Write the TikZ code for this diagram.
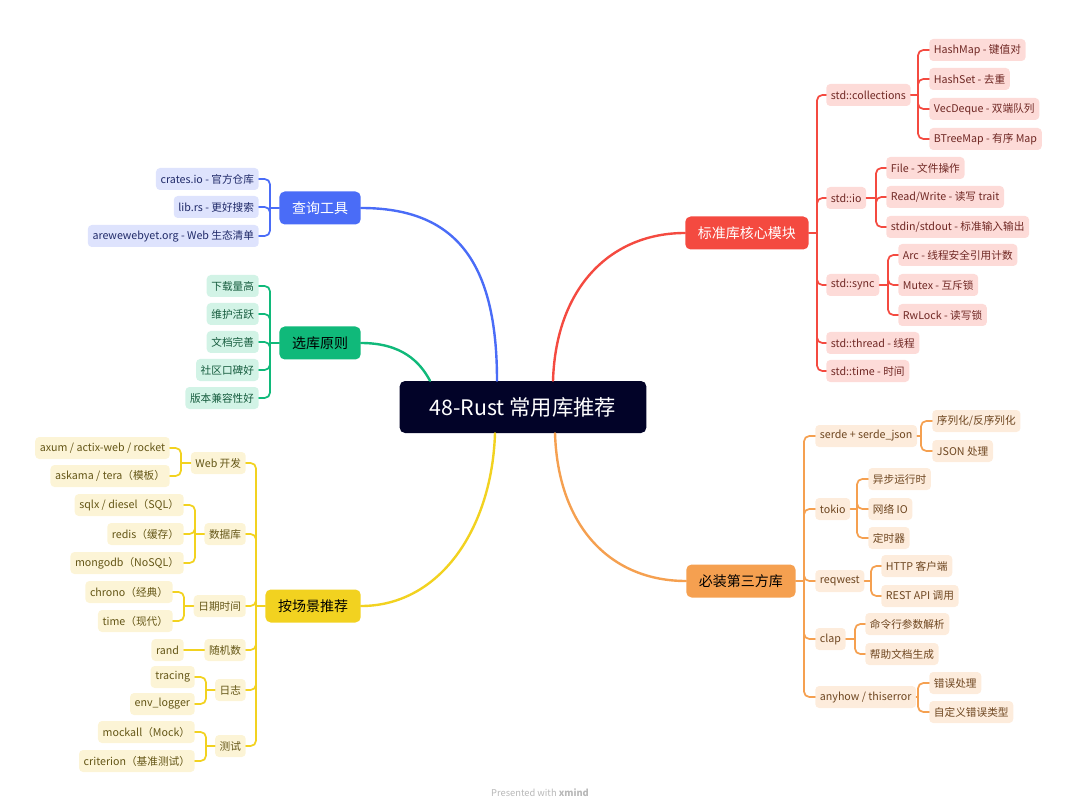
\documentclass[tikz,border=0pt]{standalone}
\usepackage{fontspec}
\setmainfont{Noto Sans CJK SC}
\usetikzlibrary{calc}

\definecolor{rootc}{RGB}{2,3,40}
\definecolor{stdc}{RGB}{244,74,64}
\definecolor{stdl}{RGB}{253,219,216}
\definecolor{stdt}{RGB}{112,40,36}
\definecolor{crtc}{RGB}{245,160,80}
\definecolor{crtl}{RGB}{253,236,220}
\definecolor{crtt}{RGB}{110,70,32}
\definecolor{fndc}{RGB}{74,108,247}
\definecolor{fndl}{RGB}{222,227,253}
\definecolor{fndt}{RGB}{32,42,105}
\definecolor{pckc}{RGB}{16,185,122}
\definecolor{pckl}{RGB}{210,243,230}
\definecolor{pckt}{RGB}{22,92,62}
\definecolor{scnc}{RGB}{242,210,32}
\definecolor{scnl}{RGB}{252,244,214}
\definecolor{scnt}{RGB}{100,86,22}

\begin{document}
\begin{tikzpicture}[x=0.75pt,y=-0.75pt,line cap=round,
        box/.style={rounded corners=3pt,inner xsep=3.5pt,inner ysep=0pt,minimum height=16.5pt,font=\fontsize{8}{9}\selectfont},
        topic/.style={rounded corners=4pt,inner xsep=9.5pt,inner ysep=0pt,minimum height=24.75pt,font=\fontsize{10.5}{12}\selectfont},
        root/.style={rounded corners=4pt,fill=rootc,text=white,minimum width=185pt,minimum height=39pt,font=\fontsize{16}{18}\selectfont},
        std/.style={box,fill=stdl,text=stdt},
        crt/.style={box,fill=crtl,text=crtt},
        fnd/.style={box,fill=fndl,text=fndt},
        pck/.style={box,fill=pckl,text=pckt},
        scn/.style={box,fill=scnl,text=scnt},
        link/.style={line width=1.3pt,rounded corners=4pt},
        branch/.style={line width=1.8pt}]
        \useasboundingbox (0,0) rectangle (1080,812);

        % centre
        \node[root] (r) at (523,407) {48-Rust 常用库推荐};

        % main topics
        \node[topic,fill=stdc,text=white,anchor=west] (std) at (685,233) {标准库核心模块};
        \node[topic,fill=crtc,text=black,anchor=west] (crt) at (686,581) {必装第三方库};
        \node[topic,fill=fndc,text=white,anchor=east] (fnd) at (361,208) {查询工具};
        \node[topic,fill=pckc,text=black,anchor=east] (pck) at (361,343) {选库原则};
        \node[topic,fill=scnc,text=black,anchor=east] (scn) at (361,606) {按场景推荐};

        \draw[branch,fndc] (fnd.east) .. controls (455,208) and ($(r.north)+(-26,-120)$) .. ($(r.north)+(-26,0)$);
        \draw[branch,pckc] (pck.east) .. controls (402,343) and (420,362) .. ($(r.north)+(-93,0)$);
        \draw[branch,stdc] ($(r.north)+(30,0)$) .. controls ($(r.north)+(33,-95)$) and (612,233) .. (std.west);
        \draw[branch,crtc] ($(r.south)+(32,0)$) .. controls ($(r.south)+(35,95)$) and (612,581) .. (crt.west);
        \draw[branch,scnc] ($(r.south)+(-28,0)$) .. controls ($(r.south)+(-31,95)$) and (440,606) .. (scn.east);

        % std
        \node[std,anchor=west] (s1) at (826,95)  {std::collections};
        \node[std,anchor=west] (s2) at (826,198) {std::io};
        \node[std,anchor=west] (s3) at (826,285) {std::sync};
        \node[std,anchor=west] (s4) at (826,343) {std::thread - 线程};
        \node[std,anchor=west] (s5) at (826,371) {std::time - 时间};
        \node[std,anchor=west] (s11) at (929,50)  {HashMap - 键值对};
        \node[std,anchor=west] (s12) at (929,79)  {HashSet - 去重};
        \node[std,anchor=west] (s13) at (929,109) {VecDeque - 双端队列};
        \node[std,anchor=west] (s14) at (929,139) {BTreeMap - 有序 Map};
        \node[std,anchor=west] (s21) at (886,168) {File - 文件操作};
        \node[std,anchor=west] (s22) at (886,197) {Read/Write - 读写 trait};
        \node[std,anchor=west] (s23) at (886,227) {stdin/stdout - 标准输入输出};
        \node[std,anchor=west] (s31) at (898,255) {Arc - 线程安全引用计数};
        \node[std,anchor=west] (s32) at (898,285) {Mutex - 互斥锁};
        \node[std,anchor=west] (s33) at (898,315) {RwLock - 读写锁};

        % crates
        \node[crt,anchor=west] (c1) at (815,436) {serde + serde\_json};
        \node[crt,anchor=west] (c2) at (815,509) {tokio};
        \node[crt,anchor=west] (c3) at (815,581) {reqwest};
        \node[crt,anchor=west] (c4) at (815,639) {clap};
        \node[crt,anchor=west] (c5) at (815,697) {anyhow / thiserror};
        \node[crt,anchor=west] (c11) at (932,421) {序列化/反序列化};
        \node[crt,anchor=west] (c12) at (932,451) {JSON 处理};
        \node[crt,anchor=west] (c21) at (868,479) {异步运行时};
        \node[crt,anchor=west] (c22) at (868,509) {网络 IO};
        \node[crt,anchor=west] (c23) at (868,538) {定时器};
        \node[crt,anchor=west] (c31) at (881,566) {HTTP 客户端};
        \node[crt,anchor=west] (c32) at (881,596) {REST API 调用};
        \node[crt,anchor=west] (c41) at (865,624) {命令行参数解析};
        \node[crt,anchor=west] (c42) at (865,654) {帮助文档生成};
        \node[crt,anchor=west] (c51) at (929,683) {错误处理};
        \node[crt,anchor=west] (c52) at (929,712) {自定义错误类型};

        % find
        \node[fnd,anchor=east] (f1) at (259,179) {crates.io - 官方仓库};
        \node[fnd,anchor=east] (f2) at (259,207) {lib.rs - 更好搜索};
        \node[fnd,anchor=east] (f3) at (259,236) {arewewebyet.org - Web 生态清单};

        % pick
        \node[pck,anchor=east] (p1) at (259,286) {下载量高};
        \node[pck,anchor=east] (p2) at (259,314) {维护活跃};
        \node[pck,anchor=east] (p3) at (259,342) {文档完善};
        \node[pck,anchor=east] (p4) at (259,370) {社区口碑好};
        \node[pck,anchor=east] (p5) at (259,398) {版本兼容性好};

        % scenes
        \node[scn,anchor=east] (y1) at (246,463) {Web 开发};
        \node[scn,anchor=east] (y2) at (246,534) {数据库};
        \node[scn,anchor=east] (y3) at (246,606) {日期时间};
        \node[scn,anchor=east] (y4) at (246,650) {随机数};
        \node[scn,anchor=east] (y5) at (246,690) {日志};
        \node[scn,anchor=east] (y6) at (246,746) {测试};
        \node[scn,anchor=east] (y11) at (170,448) {axum / actix-web / rocket};
        \node[scn,anchor=east] (y12) at (170,476) {askama / tera（模板）};
        \node[scn,anchor=east] (y21) at (184,505) {sqlx / diesel（SQL）};
        \node[scn,anchor=east] (y22) at (184,534) {redis（缓存）};
        \node[scn,anchor=east] (y23) at (184,563) {mongodb（NoSQL）};
        \node[scn,anchor=east] (y31) at (173,592) {chrono（经典）};
        \node[scn,anchor=east] (y32) at (173,621) {time（现代）};
        \node[scn,anchor=east] (y41) at (184,650) {rand};
        \node[scn,anchor=east] (y51) at (195,677) {tracing};
        \node[scn,anchor=east] (y52) at (195,704) {env\_logger};
        \node[scn,anchor=east] (y61) at (195,732) {mockall（Mock）};
        \node[scn,anchor=east] (y62) at (195,761) {criterion（基准测试）};

        % trunks
        \coordinate (tstd) at (817,233);
        \coordinate (ts1) at (918,95);
        \coordinate (ts2) at (876,198);
        \coordinate (ts3) at (888,285);
        \coordinate (tcrt) at (804,581);
        \coordinate (tc1) at (921,436);
        \coordinate (tc2) at (857,509);
        \coordinate (tc3) at (871,581);
        \coordinate (tc4) at (855,639);
        \coordinate (tc5) at (918,697);
        \coordinate (tfnd) at (270,208);
        \coordinate (tpck) at (270,343);
        \coordinate (tscn) at (256,606);
        \coordinate (ty1) at (181,463);
        \coordinate (ty2) at (195,534);
        \coordinate (ty3) at (184,606);
        \coordinate (ty5) at (206,690);
        \coordinate (ty6) at (206,746);

        \begin{scope}[link,stdc]
          \draw (std.east) -- (tstd);
          \foreach \c in {s1,s2,s3,s4,s5} \draw (tstd) |- (\c.west);
          \draw (s1.east) -- (ts1);
          \foreach \c in {s11,s12,s13,s14} \draw (ts1) |- (\c.west);
          \draw (s2.east) -- (ts2);
          \foreach \c in {s21,s22,s23} \draw (ts2) |- (\c.west);
          \draw (s3.east) -- (ts3);
          \foreach \c in {s31,s32,s33} \draw (ts3) |- (\c.west);
        \end{scope}

        \begin{scope}[link,crtc]
          \draw (crt.east) -- (tcrt);
          \foreach \c in {c1,c2,c3,c4,c5} \draw (tcrt) |- (\c.west);
          \draw (c1.east) -- (tc1);
          \foreach \c in {c11,c12} \draw (tc1) |- (\c.west);
          \draw (c2.east) -- (tc2);
          \foreach \c in {c21,c22,c23} \draw (tc2) |- (\c.west);
          \draw (c3.east) -- (tc3);
          \foreach \c in {c31,c32} \draw (tc3) |- (\c.west);
          \draw (c4.east) -- (tc4);
          \foreach \c in {c41,c42} \draw (tc4) |- (\c.west);
          \draw (c5.east) -- (tc5);
          \foreach \c in {c51,c52} \draw (tc5) |- (\c.west);
        \end{scope}

        \begin{scope}[link,fndc]
          \draw (fnd.west) -- (tfnd);
          \foreach \c in {f1,f2,f3} \draw (tfnd) |- (\c.east);
        \end{scope}

        \begin{scope}[link,pckc]
          \draw (pck.west) -- (tpck);
          \foreach \c in {p1,p2,p3,p4,p5} \draw (tpck) |- (\c.east);
        \end{scope}

        \begin{scope}[link,scnc]
          \draw (scn.west) -- (tscn);
          \foreach \c in {y1,y2,y3,y4,y5,y6} \draw (tscn) |- (\c.east);
          \draw (y1.west) -- (ty1);
          \foreach \c in {y11,y12} \draw (ty1) |- (\c.east);
          \draw (y2.west) -- (ty2);
          \foreach \c in {y21,y22,y23} \draw (ty2) |- (\c.east);
          \draw (y3.west) -- (ty3);
          \foreach \c in {y31,y32} \draw (ty3) |- (\c.east);
          \draw (y4.west) -- (y41.east);
          \draw (y5.west) -- (ty5);
          \foreach \c in {y51,y52} \draw (ty5) |- (\c.east);
          \draw (y6.west) -- (ty6);
          \foreach \c in {y61,y62} \draw (ty6) |- (\c.east);
        \end{scope}

        \node[text=black!28,font=\fontsize{7}{8}\selectfont] (ft) at (540,793) {Presented with \textbf{xmind}};
\end{tikzpicture}
\end{document}
